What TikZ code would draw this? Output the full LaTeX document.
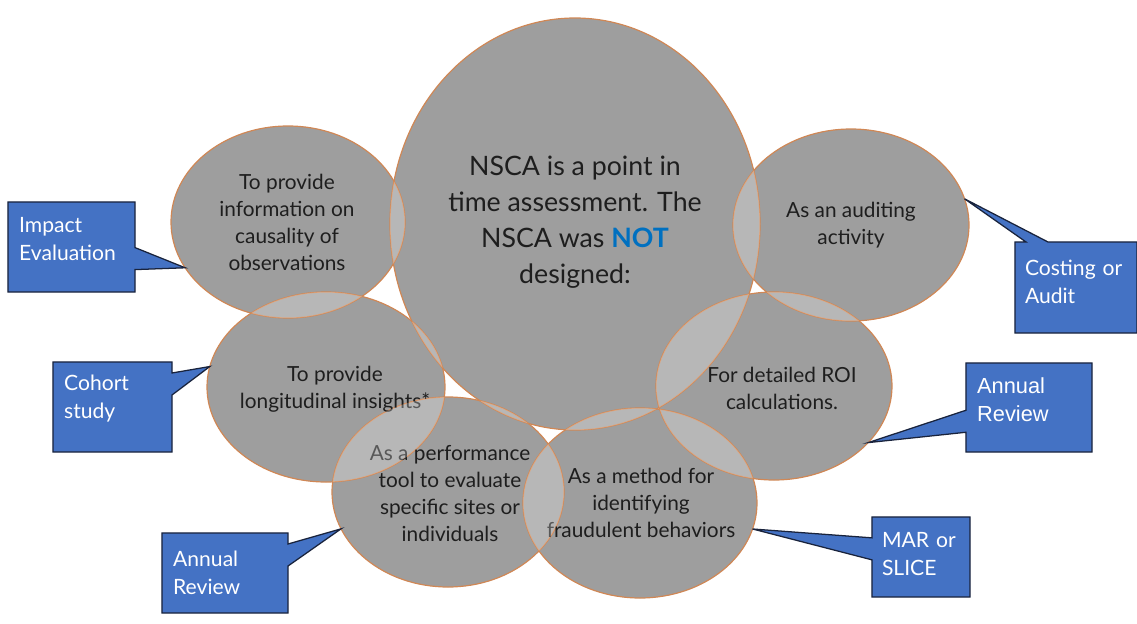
\documentclass[tikz,border=0pt]{standalone}
\usepackage{fontspec}
\setmainfont{Lato}
\newfontfamily\arialfont{Liberation Sans}
\usetikzlibrary{shapes.geometric,shapes.callouts}

\definecolor{bubblegray}{RGB}{158,158,158}
\definecolor{rimorange}{RGB}{208,135,85}
\definecolor{inkdark}{RGB}{30,30,30}
\definecolor{calloutblue}{RGB}{68,114,196}
\definecolor{calloutrim}{RGB}{25,35,60}
\definecolor{notblue}{RGB}{0,112,192}

% one pixel of the slide
\def\u{0.025cm}
% name/x/y/x radius/y radius
\def\bubbles{core/575/224/185/206, causal/288/222/117/96, audit/851/225/118/96,
  longit/326/387/119/95, roi/774/386/118/94, perf/448/492/116/95, fraud/640/503/117/95}

\tikzset{
  bubble/.style={ellipse, fill=bubblegray, inner sep=0pt, outer sep=0pt},
  rim/.style={draw=rimorange, line width=0.85pt},
  bubbletext/.style={align=center, text=inkdark, font=\fontsize{14.8}{19.2}\selectfont},
  tag/.style={rectangle callout, fill=calloutblue, draw=calloutrim, line width=0.9pt,
    text=white, align=left, inner xsep=0.28cm, callout pointer width=0.55cm,
    text depth=31pt, font=\fontsize{15}{20}\selectfont}
}

\begin{document}
\begin{tikzpicture}[x=0.025cm, y=-0.025cm]
\useasboundingbox (0,0) rectangle (1137,624);

% draw ellipses
\foreach \n/\x/\y/\a/\b in \bubbles
\node[bubble, minimum width=2*\a*\u, minimum height=2*\b*\u] (\n) at (\x,\y) {};
\foreach \n/\x/\y/\a/\b in \bubbles
\draw[rim] (\x,\y) ellipse [x radius=\a*\u, y radius=\b*\u];

% draw texts
\node[bubbletext, font=\fontsize{19}{25.6}\selectfont] (core text) at (575,222)
  {NSCA is a point in\\time assessment. The\\NSCA was \textcolor{notblue}{\textbf{NOT}}\\designed:};
\node[bubbletext] (causal text) at (287,222) {To provide\\information on\\causality of\\observations};
\node[bubbletext] (audit text) at (851,225) {As an auditing\\activity};
\node[bubbletext] (longit text) at (335,389) {To provide\\longitudinal insights*};
\node[bubbletext] (roi text) at (782,388) {For detailed ROI\\calculations.};
\node[bubbletext] (perf text) at (450,494) {As a performance\\tool to evaluate\\specific sites or\\individuals};
\node[bubbletext] (fraud text) at (641,503) {As a method for\\identifying\\fraudulent behaviors};

% lighten the overlaps
\foreach \n/\x/\y/\a/\b [count=\i] in \bubbles {
  \foreach \m/\xx/\yy/\aa/\bb [count=\j] in \bubbles {
    \ifnum\j>\i\relax
      \begin{scope}
        \clip (\x,\y) ellipse [x radius=\a*\u, y radius=\b*\u];
        \fill[white, opacity=0.26] (\xx,\yy) ellipse [x radius=\aa*\u, y radius=\bb*\u];
      \end{scope}
    \fi
  }
}

% draw callouts
\node[tag, minimum width=3.175cm, minimum height=2.25cm, text width=2.615cm,
  callout absolute pointer={(causal.204)}] (impact) at (71.5,247) {Impact\\Evaluation};
\node[tag, minimum width=2.975cm, minimum height=2.25cm, text width=2.415cm, text depth=34.5pt,
  callout absolute pointer={(longit.170)}] (cohort) at (112.5,407) {Cohort\\study};
\node[tag, minimum width=3.15cm, minimum height=2cm, text width=2.59cm, text depth=20pt,
  callout absolute pointer={(perf.199)}] (review left) at (225,573) {Annual\\Review};
\node[tag, minimum width=3.05cm, minimum height=2.275cm, text width=2.55cm, inner xsep=0.25cm,
  text depth=27.8pt, callout absolute pointer={(audit.13)}] (costing) at (1076,287.5) {Costing or\\Audit};
\node[tag, minimum width=3.15cm, minimum height=2.225cm, text width=2.59cm,
  font=\arialfont\fontsize{15.5}{20}\selectfont,
  callout absolute pointer={(roi.329)}] (review right) at (1029,407.5) {Annual\\Review};
\node[tag, minimum width=2.45cm, minimum height=2cm, text width=1.95cm, inner xsep=0.25cm,
  text depth=24.3pt, callout absolute pointer={(fraud.347)}] (mar) at (921,557) {MAR or\\SLICE};

\end{tikzpicture}
\end{document}
